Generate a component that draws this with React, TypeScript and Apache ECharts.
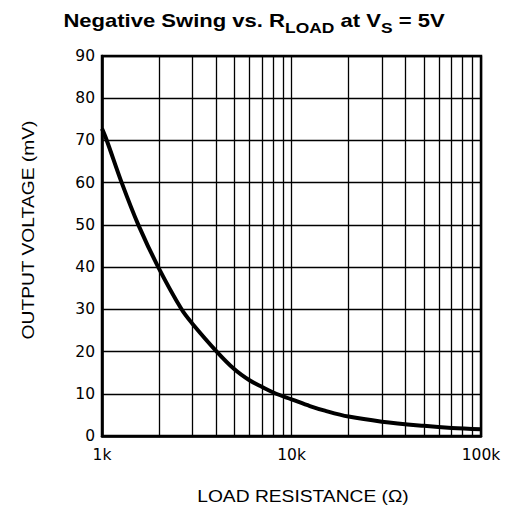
import React, { useEffect, useRef } from "react";
import * as echarts from "echarts";

const resistance = [1000, 1060, 1270, 1555, 1980, 2630, 3000, 4030, 5000, 6000, 7000, 8300, 10000, 12500, 15000, 20000, 30000, 50000, 70000, 100000];
const voltage = [72.8, 70, 60, 50, 40, 30, 26.6, 20, 15.8, 13.2, 11.6, 10, 8.7, 7.1, 6.0, 4.6, 3.4, 2.4, 1.9, 1.6];
const minorGrid = [2000, 3000, 4000, 5000, 6000, 7000, 8000, 9000, 20000, 30000, 40000, 50000, 60000, 70000, 80000, 90000];
const xTickLabels: Record<number, string> = { 1000: "1k", 10000: "10k", 100000: "100k" };
const titleParts: [string, boolean][] = [
  ["Negative Swing vs. R", false],
  ["LOAD", true],
  [" at V", false],
  ["S", true],
  [" = 5V", false],
];

function buildTitle() {
  const mainSize = 19;
  const subSize = 15;
  const ctx = document.createElement("canvas").getContext("2d")!;
  const scale = 1.16;
  let cx = 0;
  const children: any[] = [];
  for (const [t, sub] of titleParts) {
    const size = sub ? subSize : mainSize;
    ctx.font = `bold ${size}px 'Liberation Sans'`;
    const w = ctx.measureText(t).width;
    children.push({
      type: "text",
      x: cx,
      y: sub ? 8.5 : 0,
      style: {
        text: t,
        fontFamily: "Liberation Sans",
        fontWeight: "bold",
        fontSize: size,
        fill: "#000",
        align: "left",
        verticalAlign: "top",
      },
    });
    cx += w;
  }
  return {
    type: "group",
    x: 254 - (cx * scale) / 2,
    y: 11,
    scaleX: scale,
    children,
  };
}

export default function App() {
  const ref = useRef<HTMLDivElement>(null);
  useEffect(() => {
    if (!ref.current) return;
    const chart = echarts.init(ref.current, undefined, { renderer: "svg" });
    const labelFont = "DejaVu Sans";
    chart.setOption({
      animation: false,
      backgroundColor: "#fff",
      grid: {
        left: 102,
        right: 27,
        top: 56,
        bottom: 74,
        show: true,
        borderColor: "#000",
        borderWidth: 2.5,
        backgroundColor: "transparent",
      },
      xAxis: {
        type: "log",
        logBase: 10,
        min: 1000,
        max: 100000,
        axisLine: { show: true, lineStyle: { color: "#000", width: 2.5 } },
        axisTick: { show: false },
        splitLine: { show: true, lineStyle: { color: "#000", width: 1.3 } },
        axisLabel: {
          color: "#000",
          fontFamily: labelFont,
          fontSize: 15.5,
          margin: 11,
          formatter: (v: number) => xTickLabels[Math.round(v)] ?? "",
        },
      },
      yAxis: {
        type: "value",
        min: 0,
        max: 90,
        interval: 10,
        axisLine: { show: true, lineStyle: { color: "#000", width: 2.5 } },
        axisTick: { show: false },
        splitLine: { show: true, lineStyle: { color: "#000", width: 1.3 } },
        axisLabel: { color: "#000", fontFamily: labelFont, fontSize: 15.5, margin: 7 },
      },
      graphic: [
        buildTitle(),
        {
          type: "text",
          x: 303,
          y: 497,
          scaleX: 1.18,
          style: {
            text: "LOAD RESISTANCE (Ω)",
            fontFamily: "Liberation Sans",
            fontSize: 16.3,
            fill: "#000",
            align: "center",
            verticalAlign: "middle",
          },
        },
        {
          type: "text",
          x: 29,
          y: 230,
          rotation: Math.PI / 2,
          scaleX: 1.18,
          style: {
            text: "OUTPUT VOLTAGE (mV)",
            fontFamily: "Liberation Sans",
            fontSize: 16.3,
            fill: "#000",
            align: "center",
            verticalAlign: "middle",
          },
        },
      ],
      series: [
        {
          type: "line",
          data: resistance.map((r, i) => [r, voltage[i]]),
          smooth: 0.35,
          showSymbol: false,
          lineStyle: { color: "#000", width: 4 },
          z: 5,
          markLine: {
            silent: true,
            symbol: "none",
            label: { show: false },
            lineStyle: { color: "#000", width: 1.3, type: "solid" },
            data: minorGrid.map((v) => ({ xAxis: v })),
            z: 1,
          },
        },
      ],
    });
    return () => chart.dispose();
  }, []);
  return <div ref={ref} style={{ width: 508, height: 510, position: "absolute", left: 0, top: 0 }} />;
}
